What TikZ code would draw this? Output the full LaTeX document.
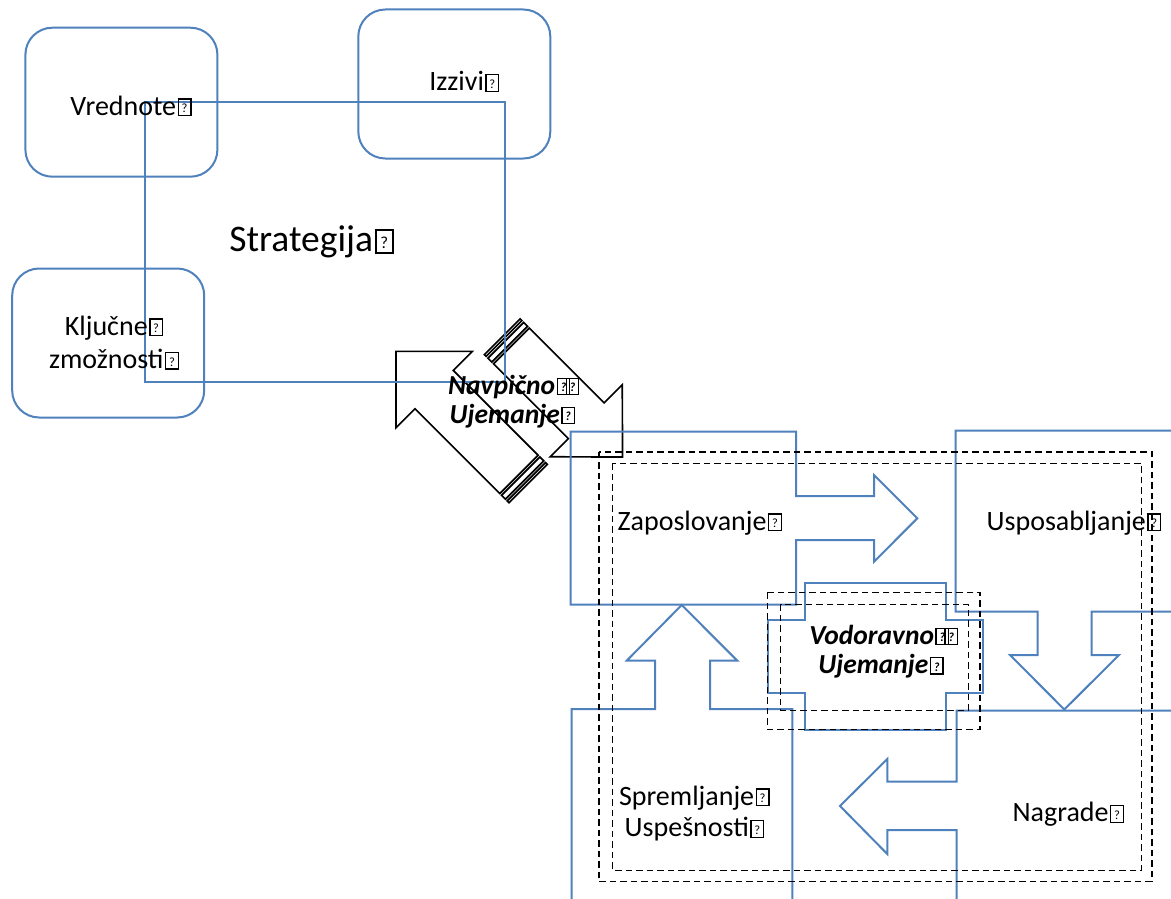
\documentclass[tikz,border=0pt]{standalone}
\usepackage{fontspec}
\setmainfont{Carlito}
\usepackage{graphicx}
\definecolor{accent}{HTML}{4F81BD}
\newcommand\tf{\kern0.05em{\setlength{\fboxsep}{0pt}\setlength{\fboxrule}{0.05em}\fbox{\makebox[0.4em]{\rule{0pt}{0.55em}\raisebox{0.08em}{\scalebox{0.45}{?}}}}}}
\newcommand\tff{\tf\kern-0.22em\tf}
\tikzset{
  rbox/.style={rectangle, rounded corners=27pt, draw=accent, fill=white, line width=2pt, inner sep=0pt},
  bl/.style={draw=accent, line width=2pt, line join=miter},
  dsh/.style={draw=black, line width=1.6pt, dash pattern=on 6.5pt off 4pt},
  arr/.style={draw=black, fill=white, line width=1.7pt, line join=miter},
  lbl/.style={font=\fontsize{28}{32}\selectfont, inner sep=0pt, anchor=base},
  bi/.style={font=\fontsize{27.5}{32}\selectfont\bfseries\itshape}
}
\begin{document}
\begin{tikzpicture}[x=1pt,y=-1pt]
\useasboundingbox (0,0) rectangle (1171,899);
\clip (0,0) rectangle (1171,899);
\fill[white] (0,0) rectangle (1171,899);

% rounded boxes
\node[rbox, minimum width=192pt, minimum height=149pt] (vred) at (121.4,102.2) {};
\node[rbox, minimum width=192pt, minimum height=149pt] (izz) at (454.3,84) {};
\node[rbox, minimum width=192pt, minimum height=149pt] (klj) at (108.2,343) {};

% striped arrow pointing down-right
\begin{scope}[shift={(502.25,336.75)}, rotate=-45]
  \draw[arr] (0,-25.3) rectangle (2.5,25.3);
  \draw[arr] (5,-25.3) rectangle (10.5,25.3);
  \draw[arr] (13,-25.3) -- (118.8,-25.3) -- (118.8,-51) -- (170,0) -- (118.8,51) -- (118.8,25.3) -- (13,25.3) -- cycle;
\end{scope}
% striped arrow pointing up-left
\begin{scope}[shift={(528.15,483.55)}, rotate=135]
  \draw[arr] (0,-27.1) rectangle (2.5,27.1);
  \draw[arr] (5,-27.1) rectangle (10.5,27.1);
  \draw[arr] (13,-27.1) -- (132.9,-27.1) -- (132.9,-54) -- (186.9,0) -- (132.9,54) -- (132.9,27.1) -- (13,27.1) -- cycle;
\end{scope}

% strategy rectangle
\draw[bl] (144.5,102.5) rectangle (504.5,381.5);

% bottom-right cycle shapes
\draw[bl] (570.7,431.7) -- (796,431.7) -- (796,496) -- (874,496) -- (874,475) -- (917.3,518.3) -- (874,561.7) -- (874,540) -- (796,540) -- (796,604.7) -- (570.7,604.7) -- cycle;
\draw[bl] (1180,430.7) -- (955.7,430.7) -- (955.7,611.7) -- (1037.7,611.7) -- (1037.7,655) -- (1010,655) -- (1064.3,709.5) -- (1119,655) -- (1091.7,655) -- (1091.7,611.7) -- (1180,611.7);
\draw[bl] (1180,710.7) -- (956.7,710.7) -- (956.7,781.7) -- (887.3,781.7) -- (887.3,759) -- (840,806) -- (887.3,854) -- (887.3,830) -- (956.7,830) -- (956.7,910);
\draw[bl] (571.7,910) -- (571.7,709) -- (655,709) -- (655,660.7) -- (626.7,660.7) -- (681.7,605) -- (737.3,660.7) -- (710,660.7) -- (710,709) -- (792.3,709) -- (792.3,910);
\draw[bl] (805.3,583.3) -- (946.3,583.3) -- (946.3,619.7) -- (982.7,619.7) -- (982.7,693.3) -- (946.3,693.3) -- (946.3,729.7) -- (805.3,729.7) -- (805.3,693.3) -- (768.3,693.3) -- (768.3,619.7) -- (805.3,619.7) -- cycle;

% dashed frames
\draw[dsh] (598.7,451.7) rectangle (1151.7,881.5);
\draw[dsh] (612.5,463.3) rectangle (1141.5,870.3);
\draw[dsh] (767.5,592.3) rectangle (980,729.5);
\draw[dsh] (780.5,604.3) rectangle (968.5,710.5);

% labels
\node[lbl] (tVred) at (131,115) {Vrednote\tf};
\node[lbl] (tIzz) at (464.3,90.7) {Izzivi\tf};
\node[lbl, font=\fontsize{37.5}{40}\selectfont] (tStrat) at (311.5,251.7) {Strategija\tf};
\node[lbl] (tKlj1) at (114,335) {Ključne\tf};
\node[lbl] (tKlj2) at (114,368.3) {zmožnosti\tf};
\node[lbl, bi] (tNav1) at (513.7,394) {Navpično\tff};
\node[lbl, bi] (tNav2) at (512.3,423) {Ujemanje\tf};
\node[lbl] (tZap) at (699.8,530) {Zaposlovanje\tf};
\node[lbl] (tUsp) at (1074,530) {Usposabljanje\tf};
\node[lbl, bi] (tVod1) at (883.8,644) {Vodoravno\tff};
\node[lbl, bi] (tVod2) at (881,673.3) {Ujemanje\tf};
\node[lbl] (tSpr1) at (694.3,805) {Spremljanje\tf};
\node[lbl] (tSpr2) at (694.5,836.7) {Uspešnosti\tf};
\node[lbl] (tNag) at (1068.3,821.7) {Nagrade\tf};
\end{tikzpicture}
\end{document}
